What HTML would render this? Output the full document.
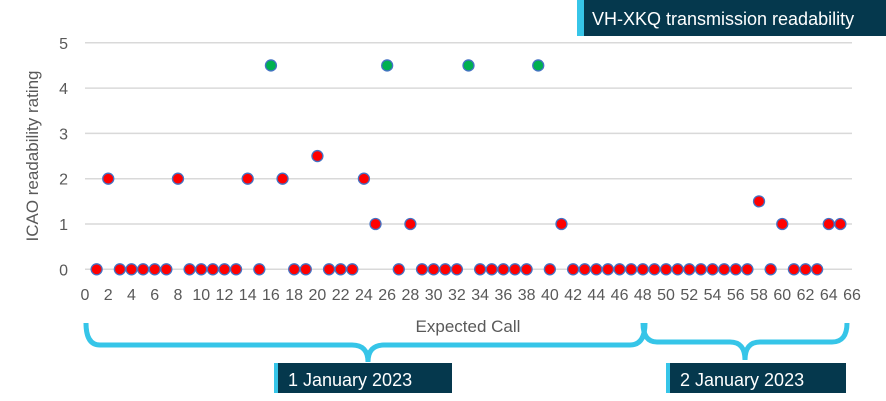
<!DOCTYPE html>
<html><head><meta charset="utf-8"><style>
body{margin:0;background:#fff;}
svg{display:block;font-family:"Liberation Sans",sans-serif;}
.tk{font-size:16px;fill:#595959;font-family:"Liberation Sans",sans-serif;}
</style></head><body>
<svg id="chart" width="886" height="401">
  <g id="grid"></g>
  <g id="yticks"></g>
  <g id="xticks"></g>
  <g id="marks"></g>
  <text x="38" y="156" transform="rotate(-90 38 156)" text-anchor="middle" font-size="17" fill="#595959">ICAO readability rating</text>
  <text x="468" y="332" text-anchor="middle" font-size="17" fill="#595959">Expected Call</text>
  <g>
    <rect x="577" y="0" width="309" height="36" fill="#05384d"/>
    <rect x="577" y="0" width="7" height="36" fill="#36c5e8"/>
    <text x="592" y="25" font-size="18" fill="#fff">VH-XKQ transmission readability</text>
  </g>
  <path d="M86 323 Q86 345 100 345 L352 345 Q368 345 368 362 Q368 345 384 345 L630 345 Q645 345 645 323" fill="none" stroke="#36c5e8" stroke-width="5"/>
  <path d="M643 323 Q643 342 657 342 L730 342 Q745 342 745 360 Q745 342 760 342 L832 342 Q847 342 847 323" fill="none" stroke="#36c5e8" stroke-width="5"/>
  <g>
    <rect x="274" y="363" width="178" height="30" fill="#05384d"/>
    <rect x="274" y="363" width="4" height="30" fill="#36c5e8"/>
    <text x="288" y="386" font-size="18" fill="#fff">1 January 2023</text>
  </g>
  <g>
    <rect x="666" y="363" width="180" height="30" fill="#05384d"/>
    <rect x="666" y="363" width="4" height="30" fill="#36c5e8"/>
    <text x="680" y="386" font-size="18" fill="#fff">2 January 2023</text>
  </g>
</svg>
<script>
const redX = [1,2,3,4,5,6,7,8,9,10,11,12,13,14,15,17,18,19,20,21,22,23,24,25,27,28,29,30,31,32,34,35,36,37,38,40,41,42,43,44,45,46,47,48,49,50,51,52,53,54,55,56,57,58,59,60,61,62,63,64,65];
const redY = [0,2,0,0,0,0,0,2,0,0,0,0,0,2,0,2,0,0,2.5,0,0,0,2,1,0,1,0,0,0,0,0,0,0,0,0,0,1,0,0,0,0,0,0,0,0,0,0,0,0,0,0,0,0,1.5,0,1,0,0,0,1,1];
const greenX = [16,26,33,39];
const greenY = [4.5,4.5,4.5,4.5];
const yTicks = [0,1,2,3,4,5];
const xTicks = [0,2,4,6,8,10,12,14,16,18,20,22,24,26,28,30,32,34,36,38,40,42,44,46,48,50,52,54,56,58,60,62,64,66];
const X0=85,X1=852,XMAX=66,Y0=269.3,YUNIT=45.3;
const sx=v=>X0+(X1-X0)*v/XMAX;
const sy=v=>Y0-v*YUNIT;
const NS="http://www.w3.org/2000/svg";
const g=document.getElementById('grid'),yt=document.getElementById('yticks'),xt=document.getElementById('xticks'),m=document.getElementById('marks');
yTicks.forEach(v=>{
  const l=document.createElementNS(NS,'line');
  l.setAttribute('x1',X0);l.setAttribute('x2',X1);l.setAttribute('y1',sy(v));l.setAttribute('y2',sy(v));
  l.setAttribute('stroke','#d9d9d9');l.setAttribute('stroke-width','1.5');
  
  
  g.appendChild(l);
  const t=document.createElementNS(NS,'text');
  t.setAttribute('x',68);t.setAttribute('y',sy(v)+6);t.setAttribute('text-anchor','end');t.setAttribute('class','tk');
  t.textContent=v;
  
  
  yt.appendChild(t);
});
xTicks.forEach(v=>{
  const t=document.createElementNS(NS,'text');
  t.setAttribute('x',sx(v));t.setAttribute('y',300);t.setAttribute('text-anchor','middle');t.setAttribute('class','tk');
  t.textContent=v;
  
  
  xt.appendChild(t);
});
function dot(x,y,fill){
  const c=document.createElementNS(NS,'circle');
  c.setAttribute('cx',sx(x));c.setAttribute('cy',sy(y));c.setAttribute('r',5.5);
  c.setAttribute('fill',fill);c.setAttribute('stroke','#4472c4');c.setAttribute('stroke-width','1.3');
  
  
  m.appendChild(c);
}
redX.forEach((x,i)=>dot(x,redY[i],'#ff0000'));
greenX.forEach((x,i)=>dot(x,greenY[i],'#00b050'));
</script>
</body></html>
